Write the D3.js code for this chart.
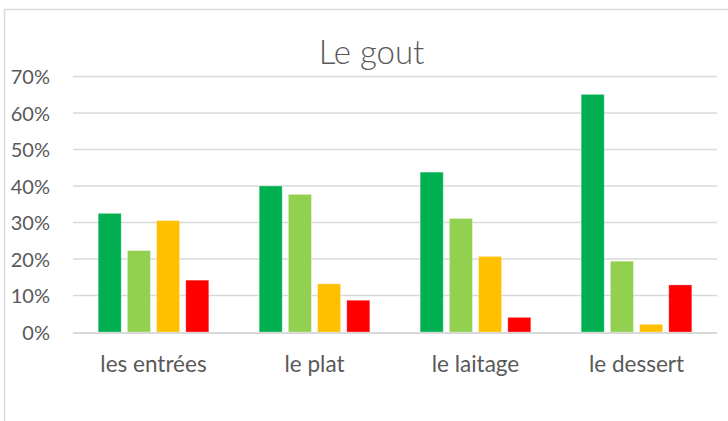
<!DOCTYPE html>
<html>
<head>
<meta charset="utf-8">
<script src="https://cdn.jsdelivr.net/npm/d3@7"></script>
<style>
  body { margin: 0; background: #fff; }
  svg { display: block; font-family: Lato, "Open Sans", sans-serif; }
</style>
</head>
<body>
<svg id="chart" width="728" height="421"></svg>
<script>
// data
var categories = ["les entrées", "le plat", "le laitage", "le dessert"];
var series = ["série 1", "série 2", "série 3", "série 4"];
var colors = ["#00B050", "#92D050", "#FFC000", "#FF0000"];
var values = [
    [0.325, 0.223, 0.305, 0.142],  // les entrées
    [0.400, 0.377, 0.132, 0.087],  // le plat
    [0.438, 0.311, 0.207, 0.040],  // le laitage
    [0.651, 0.194, 0.021, 0.129]   // le dessert
];
var yTicks = [0, 0.1, 0.2, 0.3, 0.4, 0.5, 0.6, 0.7];

var svg = d3.select("#chart");
var plotLeft = 73, plotRight = 717, plotTop = 76.5, plotBottom = 332;

// chart frame (cut off right and bottom like the screenshot)
svg.append("rect")
    .attr("x", 4.5).attr("y", 9.5)
    .attr("width", 740).attr("height", 430)
    .attr("fill", "none")
    .attr("stroke", "#d9d9d9")
    .attr("stroke-width", 1.5);

var x0 = d3.scaleBand().domain(categories).range([plotLeft, plotRight])
    .paddingInner(0.313).paddingOuter(0.1565);
var x1 = d3.scaleBand().domain(series).range([0, x0.bandwidth()])
    .paddingInner(0.212).paddingOuter(0);
var y = d3.scaleLinear().domain([0, 0.7]).range([plotBottom, plotTop]);
var color = d3.scaleOrdinal().domain(series).range(colors);

// gridlines
svg.append("g")
    .selectAll("line")
    .data(yTicks.slice(1))
    .enter()
    .append("line")
    .attr("x1", plotLeft).attr("x2", plotRight)
    .attr("y1", function(d){ return y(d); })
    .attr("y2", function(d){ return y(d); })
    .attr("stroke", "#d9d9d9")
    .attr("stroke-width", 1.3);

// y axis labels
var yAxis = d3.axisLeft(y).tickValues(yTicks).tickFormat(d3.format(".0%")).tickSize(0).tickPadding(0);
var gy = svg.append("g").attr("transform", "translate(50,0)").call(yAxis)
    .attr("font-family", null).attr("font-size", null);
gy.select(".domain").remove();
gy.selectAll("text")
    .attr("fill", "#595959")
    .style("font-size", "20px")
    .attr("dy", "0.36em");

// bars
var groups = svg.append("g")
    .selectAll("g")
    .data(values)
    .enter()
    .append("g")
    .attr("transform", function(d, i){ return "translate(" + x0(categories[i]) + ",0)"; });

groups.selectAll("rect")
    .data(function(d){ return d.map(function(v, j){ return {key: series[j], value: v}; }); })
    .enter()
    .append("rect")
    .attr("x", function(d){ return x1(d.key); })
    .attr("y", function(d){ return y(d.value); })
    .attr("width", x1.bandwidth())
    .attr("height", function(d){ return y(0) - y(d.value); })
    .attr("fill", function(d){ return color(d.key); })
    .attr("stroke", "rgba(255,255,255,0.35)")
    .attr("stroke-width", 0.8);

// baseline
svg.append("line")
    .attr("x1", plotLeft).attr("x2", plotRight)
    .attr("y1", y(0) + 1).attr("y2", y(0) + 1)
    .attr("stroke", "#d9d9d9")
    .attr("stroke-width", 2);

// category labels
var xAxis = d3.axisBottom(x0).tickSize(0).tickPadding(0);
var gx = svg.append("g").attr("transform", "translate(0,372)").call(xAxis)
    .attr("font-family", null).attr("font-size", null);
gx.select(".domain").remove();
gx.selectAll("text")
    .attr("fill", "#595959")
    .attr("dy", 0)
    .style("font-size", "22.5px");

// title
svg.append("text")
    .attr("x", 371.5).attr("y", 64)
    .attr("text-anchor", "middle")
    .attr("fill", "#595959")
    .style("font-size", "33px")
    .style("font-weight", 300)
    .text("Le gout");
</script>
</body>
</html>
